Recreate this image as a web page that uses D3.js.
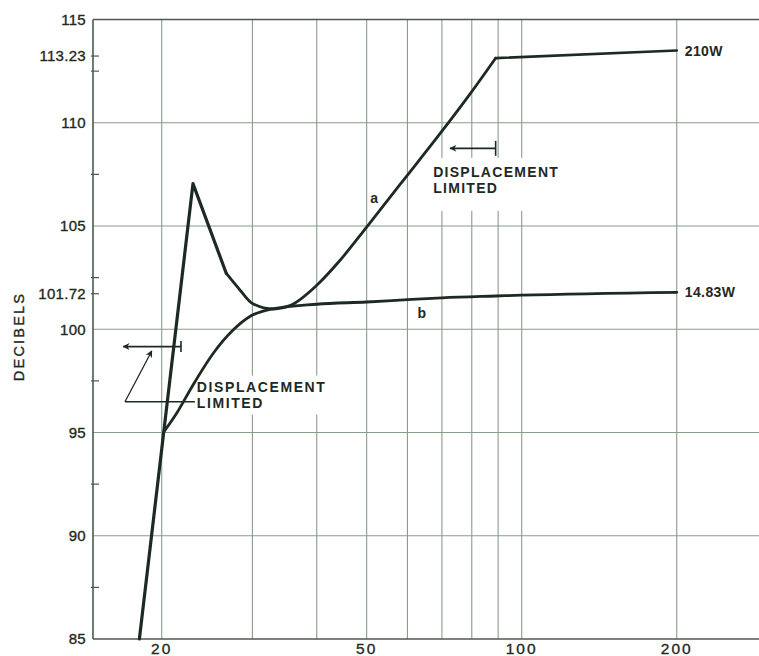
<!DOCTYPE html>
<html>
<head>
<meta charset="utf-8">
<script src="https://cdn.jsdelivr.net/npm/d3@7"></script>
<style>
  html, body { margin: 0; padding: 0; background: #ffffff; }
  svg { display: block; }
  text { font-family: "Liberation Sans", Arial, sans-serif; fill: #1d2a22; }
</style>
</head>
<body>
<svg id="chart" width="759" height="656"></svg>
<script>
// ---------------- data ----------------
const xTickValues = [20, 50, 100, 200];
const xTickLabels = ["20", "50", "100", "200"];
const xGridValues = [20, 30, 40, 50, 60, 70, 80, 90, 100, 200];

const yTickValues = [85, 90, 95, 100, 101.72, 105, 110, 113.23, 115];
const yTickLabels = ["85", "90", "95", "100", "101.72", "105", "110", "113.23", "115"];
const yGridValues = [90, 95, 100, 105, 110];
const yMinorTicks = [87.5, 92.5, 97.5, 101.72, 102.5, 107.5, 112.5, 113.23];

// curve a (210 W)
const aFreq = [18.1, 23.0, 26.7, 28.4, 30.0, 33.0, 35.6, 40, 44.4, 50, 58, 69.4, 79.4, 89.0, 200];
const aDb   = [85, 107.05, 102.7, 101.89, 101.25, 100.98, 101.16, 102.13, 103.34, 104.95, 107.0, 109.47, 111.4, 113.13, 113.5];

// curve b (14.83 W)
const bFreq = [20.15, 21.38, 22.9, 25.19, 27.52, 29.77, 32.45, 40, 50, 58, 70, 89, 100, 200];
const bDb   = [95.0, 95.93, 97.22, 98.84, 99.96, 100.64, 100.96, 101.21, 101.32, 101.41, 101.52, 101.61, 101.65, 101.79];

const endLabels = ["210 W", "14.83 W"];
const curveNames = ["a", "b"];
const curveNamePos = [[51.7, 106.36], [64.0, 100.77]];

// annotations (data space)
const annoLowArrow = { from: 21.8, to: 16.84, db: 99.16 };
const annoLowLeader = { corner: [16.97, 96.49], tip: [19.13, 98.95], end: [23.2, 96.49] };
const annoLowText = { f: 23.4, lines: [["DISPLACEMENT", 96.98], ["LIMITED", 96.19]] };
const annoHighArrow = { from: 89.0, to: 72.6, db: 108.76 };
const annoHighText = { f: 67.3, lines: [["DISPLACEMENT", 107.38], ["LIMITED", 106.60]] };

// ---------------- layout ----------------
const svg = d3.select("#chart");
const mLeft = 93, mRight = 759, mTop = 19.5, mBottom = 639;

const x = d3.scaleLog().domain([14.71, 288.9]).range([mLeft, mRight]);
const y = d3.scaleLinear().domain([85, 115]).range([mBottom, mTop]);

const gridColor = "#8a9c8c";
const frameColor = "#4c5a4e";
const inkColor = "#1d2a22";

// marker
const defs = svg.append("defs");
defs.append("marker")
  .attr("id", "arrow").attr("viewBox", "0 0 10 10")
  .attr("refX", 9).attr("refY", 5)
  .attr("markerWidth", 9).attr("markerHeight", 7)
  .attr("markerUnits", "userSpaceOnUse")
  .attr("orient", "auto-start-reverse")
  .append("path").attr("d", "M0,0 L10,5 L0,10 L3,5 z").attr("fill", inkColor);

// ---------------- grid ----------------
const grid = svg.append("g");
grid.selectAll("line.v").data(xGridValues).join("line")
  .attr("x1", d => x(d)).attr("x2", d => x(d))
  .attr("y1", mTop).attr("y2", mBottom)
  .attr("stroke", gridColor).attr("stroke-width", 1.1);
grid.selectAll("line.h").data(yGridValues).join("line")
  .attr("x1", mLeft).attr("x2", mRight)
  .attr("y1", d => y(d)).attr("y2", d => y(d))
  .attr("stroke", gridColor).attr("stroke-width", 1.1);

// white boxes behind annotation text (hide grid)
svg.append("rect")
  .attr("x", x(annoLowText.f) - 2).attr("y", y(annoLowText.lines[0][1]) - 16)
  .attr("width", 132).attr("height", 39).attr("fill", "#ffffff");
svg.append("rect")
  .attr("x", x(annoHighText.f) - 4).attr("y", y(annoHighText.lines[0][1]) - 19)
  .attr("width", 134).attr("height", 53).attr("fill", "#ffffff");

// ---------------- frame / axes ----------------
svg.append("line").attr("x1", mLeft).attr("x2", mLeft).attr("y1", mTop).attr("y2", mBottom)
  .attr("stroke", frameColor).attr("stroke-width", 1.6);
svg.append("line").attr("x1", mLeft).attr("x2", mRight).attr("y1", mBottom).attr("y2", mBottom)
  .attr("stroke", frameColor).attr("stroke-width", 1.6);
svg.append("line").attr("x1", mLeft).attr("x2", mRight).attr("y1", mTop).attr("y2", mTop)
  .attr("stroke", frameColor).attr("stroke-width", 1.6);

svg.selectAll("line.minor").data(yMinorTicks).join("line")
  .attr("x1", mLeft - 2).attr("x2", mLeft + 6)
  .attr("y1", d => y(d)).attr("y2", d => y(d))
  .attr("stroke", frameColor).attr("stroke-width", 1.2);

// y tick labels
svg.selectAll("text.ytick").data(yTickValues).join("text")
  .attr("x", 86).attr("y", d => y(d)).attr("dy", "0.36em")
  .attr("text-anchor", "end")
  .style("font-size", "15px").style("letter-spacing", "0.3px")
  .style("stroke", inkColor).style("stroke-width", "0.35px")
  .text((d, i) => yTickLabels[i]);

// x tick labels
svg.selectAll("text.xtick").data(xTickValues).join("text")
  .attr("x", d => x(d)).attr("y", 654)
  .attr("text-anchor", "middle")
  .style("font-size", "15.5px").style("letter-spacing", "2px")
  .style("stroke", inkColor).style("stroke-width", "0.35px")
  .text((d, i) => xTickLabels[i]);

// y axis title
svg.append("text")
  .attr("transform", "translate(24,336.5) rotate(-90)")
  .attr("text-anchor", "middle")
  .style("font-size", "14.5px").style("letter-spacing", "2.2px")
  .style("stroke", inkColor).style("stroke-width", "0.35px")
  .text("DECIBELS");

// ---------------- curves ----------------
const pts = (fs, ds) => fs.map((f, i) => [f, ds[i]]);
const aPts = pts(aFreq, aDb);
const bPts = pts(bFreq, bDb);

const lineLinear = d3.line().x(d => x(d[0])).y(d => y(d[1])).curve(d3.curveLinear);
const lineSmooth = d3.line().x(d => x(d[0])).y(d => y(d[1])).curve(d3.curveMonotoneX);

const curves = svg.append("g").attr("fill", "none").attr("stroke", inkColor)
  .attr("stroke-linejoin", "round").attr("stroke-linecap", "round");

curves.append("path").attr("d", lineLinear(aPts.slice(0, 3))).attr("stroke-width", 3.2);
curves.append("path").attr("d", lineSmooth(aPts.slice(2, 14))).attr("stroke-width", 2.8);
curves.append("path").attr("d", lineLinear(aPts.slice(13))).attr("stroke-width", 2.6);
curves.append("path").attr("d", lineSmooth(bPts)).attr("stroke-width", 2.8);

// end labels
const ends = [aPts[aPts.length - 1], bPts[bPts.length - 1]];
svg.selectAll("text.endlab").data(ends).join("text")
  .attr("x", d => x(d[0]) + 8).attr("y", d => y(d[1])).attr("dy", "0.36em")
  .style("font-size", "14px").style("font-weight", "bold").style("letter-spacing", "0.4px")
  .text((d, i) => endLabels[i].replace(" ", ""));

// curve names
svg.selectAll("text.cname").data(curveNamePos).join("text")
  .attr("x", d => x(d[0])).attr("y", d => y(d[1])).attr("dy", "0.36em")
  .attr("text-anchor", "middle")
  .style("font-size", "14px").style("font-weight", "bold")
  .text((d, i) => curveNames[i]);

// ---------------- annotations ----------------
const ann = svg.append("g").attr("stroke", inkColor).attr("fill", "none");

function dimArrow(a, halfBar) {
  ann.append("line")
    .attr("x1", x(a.from)).attr("y1", y(a.db))
    .attr("x2", x(a.to)).attr("y2", y(a.db))
    .attr("stroke-width", 1.6).attr("marker-end", "url(#arrow)");
  ann.append("line")
    .attr("x1", x(a.from)).attr("x2", x(a.from))
    .attr("y1", y(a.db) - halfBar).attr("y2", y(a.db) + halfBar)
    .attr("stroke-width", 1.6);
}
dimArrow(annoLowArrow, 5.5);
dimArrow(annoHighArrow, 7.5);

// leader for lower annotation
ann.append("line")
  .attr("x1", x(annoLowLeader.corner[0])).attr("y1", y(annoLowLeader.corner[1]))
  .attr("x2", x(annoLowLeader.tip[0])).attr("y2", y(annoLowLeader.tip[1]))
  .attr("stroke-width", 1.3).attr("marker-end", "url(#arrow)");
ann.append("line")
  .attr("x1", x(annoLowLeader.corner[0])).attr("y1", y(annoLowLeader.corner[1]))
  .attr("x2", x(annoLowLeader.end[0])).attr("y2", y(annoLowLeader.end[1]))
  .attr("stroke-width", 1.3);

function annoText(t, spacing) {
  svg.append("g").selectAll("text").data(t.lines).join("text")
    .attr("x", x(t.f)).attr("y", d => y(d[1]))
    .style("font-size", "14px").style("font-weight", "bold")
    .style("letter-spacing", spacing)
    .text(d => d[0]);
}
annoText(annoLowText, "1.6px");
annoText(annoHighText, "1.3px");
</script>
</body>
</html>
